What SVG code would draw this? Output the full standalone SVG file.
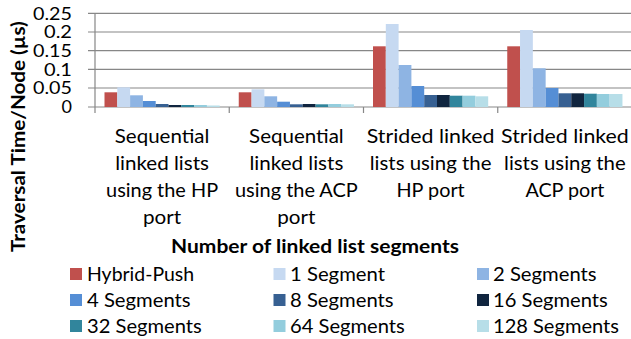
<svg xmlns="http://www.w3.org/2000/svg" width="631" height="339" viewBox="0 0 631 339">
<style>
text{font-family:Lato,"Open Sans","Liberation Sans",sans-serif;font-size:19.5px;fill:#000}
.b{font-weight:bold}
.t{font-size:18px}
.grid{stroke:#878787;stroke-width:1.2;fill:none}
.c0{fill:#C0504D}.c1{fill:#C6D9F1}.c2{fill:#8EB4E3}.c3{fill:#558ED5}.c4{fill:#376092}
.c5{fill:#10253F}.c6{fill:#31859C}.c7{fill:#93CDDD}.c8{fill:#B7DEE8}
.m{text-anchor:middle}.e{text-anchor:end}
</style>
<rect width="631" height="339" fill="#fff"/>
<g id="axes">
<path class="grid" d="M88 13.3H631M88 32H631M88 50.7H631M88 69.3H631M88 88H631M88 107H631M95 13.3V113M229.25 107V113M363.5 107V113M497.75 107V113"/>
</g>
<g id="ytick-labels">
<text class="e t" x="72" y="19.6" textLength="39" lengthAdjust="spacingAndGlyphs">0.25</text>
<text class="e t" x="72" y="38.3" textLength="28" lengthAdjust="spacingAndGlyphs">0.2</text>
<text class="e t" x="72" y="57" textLength="39" lengthAdjust="spacingAndGlyphs">0.15</text>
<text class="e t" x="72" y="75.6" textLength="28" lengthAdjust="spacingAndGlyphs">0.1</text>
<text class="e t" x="72" y="94.3" textLength="39" lengthAdjust="spacingAndGlyphs">0.05</text>
<text class="e t" x="72" y="113">0</text>
</g>
<g id="bars">
<g id="series-hybrid-push" class="c0">
<rect x="104.5" y="92.3" width="12.8" height="14.7"/>
<rect x="238.75" y="92.3" width="12.8" height="14.7"/>
<rect x="373" y="46.3" width="12.8" height="60.7"/>
<rect x="507.25" y="46.3" width="12.8" height="60.7"/>
</g>
<g id="series-1-segment" class="c1">
<rect x="117.3" y="87.3" width="12.8" height="19.7"/>
<rect x="251.55" y="89.3" width="12.8" height="17.7"/>
<rect x="385.8" y="24" width="12.8" height="83"/>
<rect x="520.05" y="30" width="12.8" height="77"/>
</g>
<g id="series-2-segments" class="c2">
<rect x="130.1" y="95.3" width="12.8" height="11.7"/>
<rect x="264.35" y="96.3" width="12.8" height="10.7"/>
<rect x="398.6" y="65" width="12.8" height="42"/>
<rect x="532.85" y="68.3" width="12.8" height="38.7"/>
</g>
<g id="series-4-segments" class="c3">
<rect x="142.9" y="101" width="12.8" height="6"/>
<rect x="277.15" y="101.7" width="12.8" height="5.3"/>
<rect x="411.4" y="86" width="12.8" height="21"/>
<rect x="545.65" y="88" width="12.8" height="19"/>
</g>
<g id="series-8-segments" class="c4">
<rect x="155.7" y="104" width="12.8" height="3"/>
<rect x="289.95" y="104.3" width="12.8" height="2.7"/>
<rect x="424.2" y="95" width="12.8" height="12"/>
<rect x="558.45" y="93.3" width="12.8" height="13.7"/>
</g>
<g id="series-16-segments" class="c5">
<rect x="168.5" y="105" width="12.8" height="2"/>
<rect x="302.75" y="104" width="12.8" height="3"/>
<rect x="437" y="95" width="12.8" height="12"/>
<rect x="571.25" y="93.3" width="12.8" height="13.7"/>
</g>
<g id="series-32-segments" class="c6">
<rect x="181.3" y="105" width="12.8" height="2"/>
<rect x="315.55" y="104.3" width="12.8" height="2.7"/>
<rect x="449.8" y="95.7" width="12.8" height="11.3"/>
<rect x="584.05" y="93.7" width="12.8" height="13.3"/>
</g>
<g id="series-64-segments" class="c7">
<rect x="194.1" y="105" width="12.8" height="2"/>
<rect x="328.35" y="104" width="12.8" height="3"/>
<rect x="462.6" y="95.7" width="12.8" height="11.3"/>
<rect x="596.85" y="94" width="12.8" height="13"/>
</g>
<g id="series-128-segments" class="c8">
<rect x="206.9" y="105.5" width="12.8" height="1.5"/>
<rect x="341.15" y="104.3" width="12.8" height="2.7"/>
<rect x="475.4" y="96.3" width="12.8" height="10.7"/>
<rect x="609.65" y="94" width="12.8" height="13"/>
</g>
</g>
<g id="category-labels" class="m">
<g id="cat-seq-hp">
<text x="162.1" y="143" textLength="94.6" lengthAdjust="spacingAndGlyphs">Sequential</text>
<text x="162.1" y="170" textLength="93.8" lengthAdjust="spacingAndGlyphs">linked lists</text>
<text x="162.1" y="197" textLength="112" lengthAdjust="spacingAndGlyphs">using the HP</text>
<text x="162.1" y="224" textLength="38.2" lengthAdjust="spacingAndGlyphs">port</text>
</g>
<g id="cat-seq-acp">
<text x="296.4" y="143" textLength="94.6" lengthAdjust="spacingAndGlyphs">Sequential</text>
<text x="296.4" y="170" textLength="93.8" lengthAdjust="spacingAndGlyphs">linked lists</text>
<text x="296.4" y="197" textLength="122.8" lengthAdjust="spacingAndGlyphs">using the ACP</text>
<text x="296.4" y="224" textLength="38.2" lengthAdjust="spacingAndGlyphs">port</text>
</g>
<g id="cat-str-hp">
<text x="430.6" y="143" textLength="127.7" lengthAdjust="spacingAndGlyphs">Strided linked</text>
<text x="430.6" y="170" textLength="121.6" lengthAdjust="spacingAndGlyphs">lists using the</text>
<text x="430.6" y="197" textLength="68.2" lengthAdjust="spacingAndGlyphs">HP port</text>
</g>
<g id="cat-str-acp">
<text x="564.9" y="143" textLength="127.7" lengthAdjust="spacingAndGlyphs">Strided linked</text>
<text x="564.9" y="170" textLength="121.6" lengthAdjust="spacingAndGlyphs">lists using the</text>
<text x="564.9" y="197" textLength="79" lengthAdjust="spacingAndGlyphs">ACP port</text>
</g>
</g>
<g id="axis-titles">
<text class="b m" transform="translate(25,136.7) rotate(-90)" textLength="230.8" lengthAdjust="spacingAndGlyphs">Traversal Time/Node (µs)</text>
<text class="b m" x="315" y="253" textLength="288" lengthAdjust="spacingAndGlyphs">Number of linked list segments</text>
</g>
<g id="legend">
<g id="leg-hybrid-push"><rect class="c0" x="70" y="268" width="12" height="12"/><text x="87" y="281" textLength="107.1" lengthAdjust="spacingAndGlyphs">Hybrid-Push</text></g>
<g id="leg-1"><rect class="c1" x="273.5" y="268" width="12" height="12"/><text x="290" y="281" textLength="95" lengthAdjust="spacingAndGlyphs">1 Segment</text></g>
<g id="leg-2"><rect class="c2" x="477" y="268" width="12" height="12"/><text x="493" y="281" textLength="103.6" lengthAdjust="spacingAndGlyphs">2 Segments</text></g>
<g id="leg-4"><rect class="c3" x="70" y="294" width="12" height="12"/><text x="87" y="307" textLength="103.6" lengthAdjust="spacingAndGlyphs">4 Segments</text></g>
<g id="leg-8"><rect class="c4" x="273.5" y="294" width="12" height="12"/><text x="290" y="307" textLength="103.6" lengthAdjust="spacingAndGlyphs">8 Segments</text></g>
<g id="leg-16"><rect class="c5" x="477" y="294" width="12" height="12"/><text x="493" y="307" textLength="114.8" lengthAdjust="spacingAndGlyphs">16 Segments</text></g>
<g id="leg-32"><rect class="c6" x="70" y="320" width="12" height="12"/><text x="87" y="333" textLength="114.8" lengthAdjust="spacingAndGlyphs">32 Segments</text></g>
<g id="leg-64"><rect class="c7" x="273.5" y="320" width="12" height="12"/><text x="290" y="333" textLength="114.8" lengthAdjust="spacingAndGlyphs">64 Segments</text></g>
<g id="leg-128"><rect class="c8" x="477" y="320" width="12" height="12"/><text x="493" y="333" textLength="125.9" lengthAdjust="spacingAndGlyphs">128 Segments</text></g>
</g>
</svg>
